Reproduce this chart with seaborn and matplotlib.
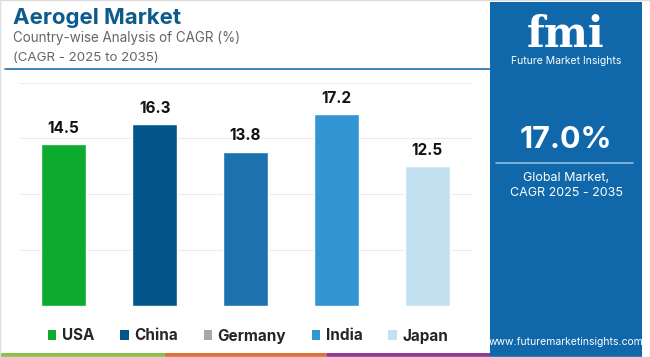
import matplotlib
matplotlib.use("Agg")
import matplotlib.pyplot as plt
from matplotlib.patches import Patch, Rectangle
from matplotlib.lines import Line2D
import pandas as pd
import seaborn as sns

sns.set_theme(style="white")
plt.rcParams['font.family'] = ['Inter', 'DejaVu Sans']

countries = ["USA", "China", "Germany", "India", "Japan"]
cagr = [14.5, 16.3, 13.8, 17.2, 12.5]
bar_colors = ["#0caa2e", "#03568c", "#1b72ad", "#3296d4", "#c4e1f1"]
legend_colors = ["#0caa2e", "#03568c", "#a8a8a8", "#3296d4", "#c4e1f1"]
global_cagr = "17.0%"

df = pd.DataFrame({"Country": countries, "CAGR": cagr})

fig = plt.figure(figsize=(6.5, 3.57), dpi=100)
W, H = 650, 357

def fx(px):
    return px / W

def fy(py):
    return 1 - py / H

ax = fig.add_axes([fx(20), fy(305.7), fx(472 - 20), (305.7 - 82.7) / H])
sns.barplot(data=df, x="Country", y="CAGR", hue="Country", palette=bar_colors,
            width=0.5, legend=False, ax=ax, saturation=1)
ax.set_ylim(0, 20)
ax.set_xlim(-0.48, 4.49)
ax.set_yticks([0, 5, 10, 15, 20])
ax.yaxis.grid(True, color="#ececec", linewidth=0.8)
ax.set_axisbelow(True)
ax.set_xticks([])
ax.set_yticklabels([])
ax.tick_params(left=False, bottom=False)
ax.set_xlabel("")
ax.set_ylabel("")
for s in ax.spines.values():
    s.set_visible(False)

for i, v in enumerate(cagr):
    ax.annotate(f"{v}", (i, v), xytext=(0, 6), textcoords="offset points",
                ha="center", va="bottom", fontsize=11, fontweight="bold", color="#111111")

# titles
fig.text(fx(13), fy(24), "Aerogel Market", fontsize=16, fontweight="bold",
         color="#0d5a8c", va="baseline")
fig.text(fx(13), fy(42), "Country-wise Analysis of CAGR (%)", fontsize=9.7,
         color="#666666", va="baseline")
fig.text(fx(13), fy(61), "(CAGR - 2025 to 2035)", fontsize=9.6,
         color="#666666", va="baseline")
fig.add_artist(Line2D([fx(5), fx(490)], [fy(69), fy(69)], color="#1f6fa8", linewidth=1.2))

# legend
handles = [Patch(facecolor=c, edgecolor="none", label=n) for c, n in zip(legend_colors, countries)]
fig.legend(handles=handles, loc="center left", bbox_to_anchor=(fx(48), fy(336)), ncol=5,
           frameon=False, prop={"weight": "bold", "size": 11},
           handlelength=0.55, handleheight=0.55, handletextpad=0.35, columnspacing=1.7,
           borderaxespad=0, borderpad=0)

# bottom strips
for x0, x1, c in [(0, 165, "#8bc34a"), (165, 327, "#e0703a"), (327, 490, "#8e3b96")]:
    fig.add_artist(Rectangle((fx(x0), 0), fx(x1 - x0), 4 / H, facecolor=c,
                             edgecolor="none", transform=fig.transFigure))

# right panel
fig.add_artist(Rectangle((fx(490), 0), fx(152), 1 - 2 / H, facecolor="#1068aa",
                         edgecolor="none", transform=fig.transFigure))
cx = fx(566)
fig.text(cx, fy(47), "fmi", fontsize=30, fontweight="bold", color="white",
         ha="center", va="baseline", family=["DejaVu Serif"])
fig.text(cx, fy(64), "Future Market Insights", fontsize=7.5, color="white",
         ha="center", va="baseline")
fig.text(cx, fy(148), global_cagr, fontsize=22, fontweight="bold", color="white",
         ha="center", va="baseline")
fig.add_artist(Line2D([fx(496), fx(633)], [fy(163), fy(163)], color="#8fbde0", linewidth=1.2))
fig.text(cx, fy(178), "Global Market,", fontsize=9, color="white", ha="center", va="center")
fig.text(cx, fy(193), "CAGR 2025 - 2035", fontsize=9, color="white", ha="center", va="center")
fig.text(cx, fy(342), "www.futuremarketinsights.com", fontsize=7.5, color="white",
         ha="center", va="center")

# thin border
fig.add_artist(Rectangle((0, 0), 1, 1, facecolor="none", edgecolor="#dddddd",
                         linewidth=1, transform=fig.transFigure))

fig.savefig("out.png", dpi=100)
